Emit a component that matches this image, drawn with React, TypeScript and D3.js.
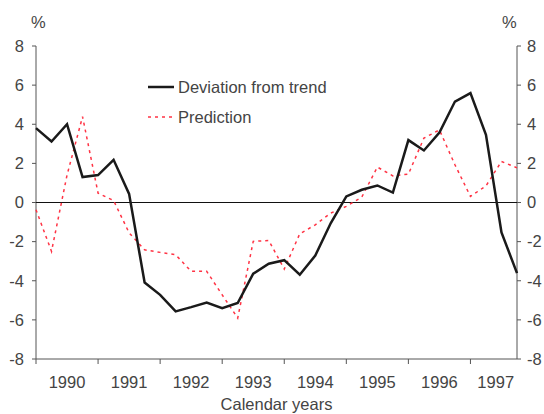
import React from "react";
import * as d3 from "d3";

const years = ["1990", "1991", "1992", "1993", "1994", "1995", "1996", "1997"];
const yTicks = [8, 6, 4, 2, 0, -2, -4, -6, -8];
const deviation = [
  3.8, 3.12, 4.0, 1.3, 1.4, 2.18, 0.44, -4.09,
  -4.72, -5.57, -5.35, -5.11, -5.4, -5.14, -3.64, -3.13,
  -2.95, -3.69, -2.71, -1.05, 0.31, 0.65, 0.87, 0.51,
  3.19, 2.66, 3.58, 5.16, 5.59, 3.46, -1.53, -3.61,
];
const prediction = [
  -0.37, -2.5, 1.4, 4.39, 0.48, 0.1, -1.55, -2.42,
  -2.55, -2.67, -3.52, -3.52, -4.72, -5.91, -1.99, -1.94,
  -3.4, -1.6, -1.14, -0.54, -0.2, 0.28, 1.81, 1.36,
  1.45, 3.29, 3.71, 1.93, 0.31, 0.85, 2.1, 1.77,
];

const W = 544;
const H = 414;
const left = 36;
const right = 517;
const top = 46;
const bottom = 359;
const font = "'Liberation Sans', Arial, sans-serif";
const textColor = "#444";
const fs = 16.5;

export default function App() {
  const x = d3.scaleLinear().domain([0, 31 / 4]).range([left, right]);
  const y = d3.scaleLinear().domain([-8, 8]).range([bottom, top]);
  const line = d3
    .line<number>()
    .x((_, i) => x(i / 4))
    .y((d) => y(d));

  return (
    <svg
      width={W}
      height={H}
      style={{ position: "absolute", left: 0, top: 0 }}
      fontFamily={font}
    >
      <rect width={W} height={H} fill="#fff" />
      <line x1={left} x2={left} y1={top} y2={bottom} stroke="#555" strokeWidth={1} />
      <line x1={right} x2={right} y1={top} y2={bottom} stroke="#555" strokeWidth={1} />
      <line x1={left} x2={right} y1={bottom} y2={bottom} stroke="#555" strokeWidth={1} />
      <line x1={left} x2={right} y1={y(0)} y2={y(0)} stroke="#111" strokeWidth={1} />
      {yTicks.map((t) => (
        <g key={t}>
          <line x1={left - 4} x2={left} y1={y(t)} y2={y(t)} stroke="#555" />
          <line x1={right} x2={right + 4} y1={y(t)} y2={y(t)} stroke="#555" />
          <text x={left - 12} y={y(t)} dy="0.35em" textAnchor="end" fontSize={fs} fill={textColor}>
            {t}
          </text>
          <text x={right + 10} y={y(t)} dy="0.35em" textAnchor="start" fontSize={fs} fill={textColor}>
            {t}
          </text>
        </g>
      ))}
      {years.map((yr, i) => (
        <g key={yr}>
          <line x1={x(i)} x2={x(i)} y1={bottom} y2={bottom + 5} stroke="#555" />
          <text
            x={i < years.length - 1 ? (x(i) + x(i + 1)) / 2 : (x(i) + right) / 2 + 2}
            y={388}
            textAnchor="middle"
            fontSize={fs}
            fill={textColor}
          >
            {yr}
          </text>
        </g>
      ))}
      <text x={(left + right) / 2} y={410} textAnchor="middle" fontSize={fs} fill={textColor}>
        Calendar years
      </text>
      <text x={31} y={28} fontSize={fs} fill={textColor}>%</text>
      <text x={502} y={28} fontSize={fs} fill={textColor}>%</text>

      <path
        d={line(prediction) || ""}
        fill="none"
        stroke="#ff3344"
        strokeWidth={1.5}
        strokeDasharray="3,4"
      />
      <path
        d={line(deviation) || ""}
        fill="none"
        stroke="#1a1a1a"
        strokeWidth={2.5}
      />

      <line x1={148} x2={174} y1={87} y2={87} stroke="#1a1a1a" strokeWidth={2.5} />
      <text x={178} y={87} dy="0.35em" fontSize={fs} fill={textColor}>
        Deviation from trend
      </text>
      <line x1={148} x2={174} y1={117} y2={117} stroke="#ff3344" strokeWidth={1.5} strokeDasharray="3,4" />
      <text x={178} y={117} dy="0.35em" fontSize={fs} fill={textColor}>
        Prediction
      </text>
    </svg>
  );
}
